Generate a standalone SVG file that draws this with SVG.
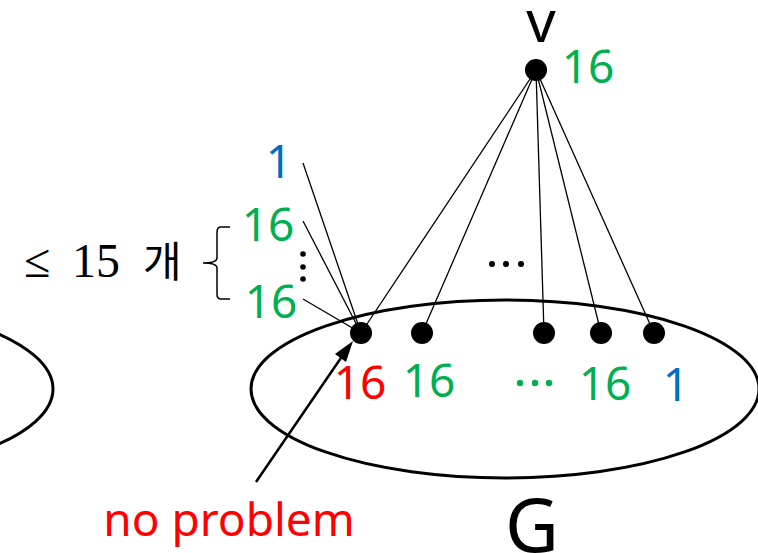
<svg xmlns="http://www.w3.org/2000/svg" width="758" height="553" viewBox="0 0 758 553">
<style>
text{font-family:"Noto Sans","Open Sans",sans-serif;}
.lbl{font-size:46px;text-anchor:middle;}
.g{fill:#00B050;}
.b{fill:#0070C0;}
.r{fill:#FF0000;}
.k{fill:#000;}
.edge{stroke:#000;stroke-width:1.3;fill:none;}
.ell{stroke:#000;stroke-width:3;fill:none;}
.dot{fill:#000;}
</style>
<defs>
<marker id="ah" markerWidth="10" markerHeight="10" refX="8" refY="5" orient="auto" markerUnits="userSpaceOnUse" viewBox="0 0 10 10">
<path d="M0,0 L10,5 L0,10 z" fill="#000"/>
</marker>
</defs>
<g id="ellipse-left"><ellipse class="ell" cx="-201" cy="389" rx="254" ry="89"/></g>
<g id="ellipse-G"><ellipse class="ell" cx="505" cy="389" rx="254" ry="89"/></g>
<g id="connectors">
<line class="edge" x1="536" y1="70" x2="361" y2="333"/>
<line class="edge" x1="536" y1="70" x2="422" y2="333"/>
<line class="edge" x1="536" y1="70" x2="544" y2="333"/>
<line class="edge" x1="536" y1="70" x2="601" y2="333"/>
<line class="edge" x1="536" y1="70" x2="654" y2="333"/>
<line class="edge" x1="303" y1="163" x2="361" y2="333"/>
<line class="edge" x1="303" y1="221" x2="361" y2="333"/>
<line class="edge" x1="303" y1="299" x2="361" y2="333"/>
<path d="M230,227 L221,227 Q217,227 217,232 L217,258 Q217,263 203,263 Q217,263 217,268 L217,294 Q217,299 221,299 L230,299" stroke="#000" stroke-width="1.5" fill="none"/>
<line x1="256" y1="482" x2="345" y2="352" stroke="#000" stroke-width="2.5"/>
<path d="M353,341 L346,362 L335,354 z" fill="#000"/>
</g>
<g id="node-v">
<circle class="dot" cx="536" cy="70" r="11"/>
<text x="541" y="42" font-size="58" text-anchor="middle" class="k">v</text>
<text x="588" y="83" class="lbl g">16</text>
</g>
<g id="node-1"><circle class="dot" cx="361" cy="333" r="11"/><text x="360" y="399" class="lbl r">16</text></g>
<g id="node-2"><circle class="dot" cx="422" cy="333" r="11"/><text x="429" y="397" class="lbl g">16</text></g>
<g id="node-3"><circle class="dot" cx="544" cy="333" r="11"/></g>
<g id="node-4"><circle class="dot" cx="601" cy="333" r="11"/><text x="605" y="400" class="lbl g">16</text></g>
<g id="node-5"><circle class="dot" cx="654" cy="333" r="11"/><text x="676" y="401" class="lbl b">1</text></g>
<g id="dots-bottom" class="g">
<circle cx="520" cy="383" r="3.2"/><circle cx="535" cy="383" r="3.2"/><circle cx="549" cy="383" r="3.2"/>
</g>
<g id="dots-mid">
<circle cx="492" cy="264" r="3"/><circle cx="506" cy="264" r="3"/><circle cx="521" cy="264" r="3"/>
</g>
<g id="neighbors-left">
<text x="279" y="178" class="lbl b">1</text>
<text x="268" y="241" class="lbl g">16</text>
<text x="271" y="318" class="lbl g">16</text>
<circle cx="303" cy="254" r="2.8"/><circle cx="303" cy="267" r="2.8"/><circle cx="303" cy="279" r="2.8"/>
</g>
<g id="count-label">
<text x="24" y="277" font-size="48" style="font-family:'Liberation Serif','DejaVu Serif',serif">≤</text>
<text x="72" y="277" font-size="48" style="font-family:'Liberation Serif','DejaVu Serif',serif">15</text>
<text x="143" y="277" font-size="42" style="font-family:'Noto Sans CJK KR',sans-serif">개</text>
</g>
<g id="label-noproblem"><text x="229" y="536" class="lbl r">no problem</text></g>
<g id="label-G"><text x="532" y="552" font-size="74" text-anchor="middle" class="k">G</text></g>
</svg>
